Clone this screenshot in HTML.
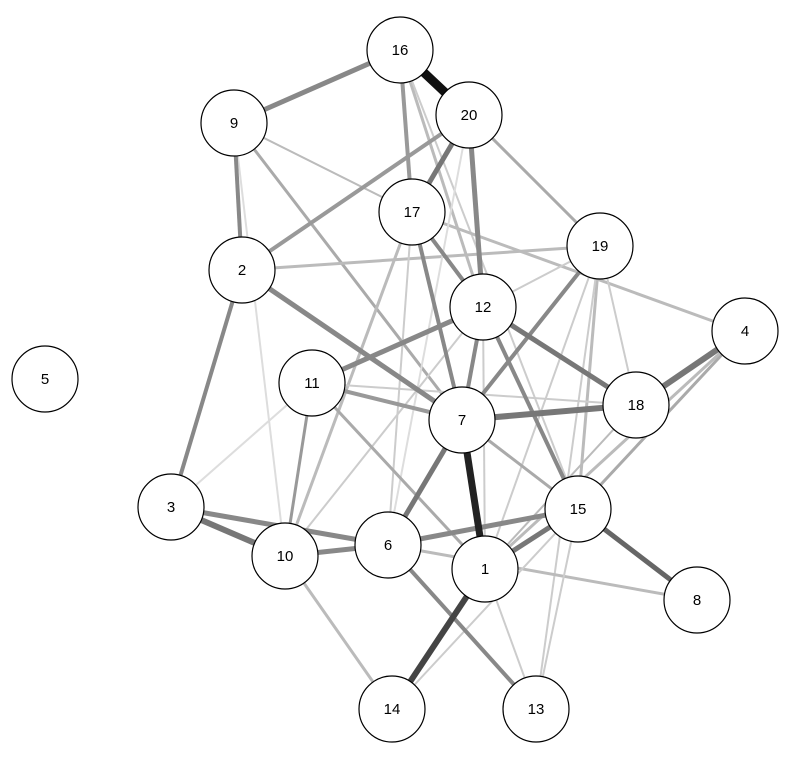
<!DOCTYPE html>
<html><head><meta charset="utf-8"><style>html,body{margin:0;padding:0;background:#fff}</style></head>
<body>
<svg width="800" height="770" xmlns="http://www.w3.org/2000/svg" font-family="Liberation Sans, sans-serif">
<g stroke-linecap="butt">
<line x1="469" y1="115" x2="600" y2="246" stroke="#aaa" stroke-width="3"/>
<line x1="400" y1="50" x2="483" y2="307" stroke="#bbb" stroke-width="3"/>
<line x1="400" y1="50" x2="578" y2="509" stroke="#ccc" stroke-width="2"/>
<line x1="234" y1="123" x2="412" y2="212" stroke="#bbb" stroke-width="2"/>
<line x1="412" y1="212" x2="743" y2="332" stroke="#bbb" stroke-width="3"/>
<line x1="234" y1="123" x2="462" y2="420" stroke="#aaa" stroke-width="3"/>
<line x1="234" y1="123" x2="285" y2="556" stroke="#ddd" stroke-width="2"/>
<line x1="242" y1="270" x2="600" y2="246" stroke="#bbb" stroke-width="3"/>
<line x1="412" y1="212" x2="285" y2="556" stroke="#bbb" stroke-width="3"/>
<line x1="412" y1="212" x2="388" y2="545" stroke="#ccc" stroke-width="2"/>
<line x1="469" y1="115" x2="388" y2="545" stroke="#ddd" stroke-width="2"/>
<line x1="600" y1="246" x2="483" y2="307" stroke="#ccc" stroke-width="2"/>
<line x1="600" y1="246" x2="578" y2="509" stroke="#bbb" stroke-width="3"/>
<line x1="600" y1="246" x2="536" y2="709" stroke="#ccc" stroke-width="2"/>
<line x1="600" y1="246" x2="485" y2="569" stroke="#ccc" stroke-width="2"/>
<line x1="600" y1="246" x2="636" y2="405" stroke="#ccc" stroke-width="2"/>
<line x1="743" y1="332" x2="578" y2="509" stroke="#aaa" stroke-width="3"/>
<line x1="743" y1="332" x2="485" y2="569" stroke="#bbb" stroke-width="3"/>
<line x1="483" y1="307" x2="285" y2="556" stroke="#ccc" stroke-width="2"/>
<line x1="483" y1="307" x2="485" y2="569" stroke="#ccc" stroke-width="2"/>
<line x1="312" y1="383" x2="636" y2="405" stroke="#ccc" stroke-width="2"/>
<line x1="312" y1="383" x2="485" y2="569" stroke="#aaa" stroke-width="3"/>
<line x1="462" y1="420" x2="578" y2="509" stroke="#aaa" stroke-width="3"/>
<line x1="171" y1="507" x2="312" y2="383" stroke="#ddd" stroke-width="2"/>
<line x1="285" y1="556" x2="392" y2="709" stroke="#bbb" stroke-width="3"/>
<line x1="388" y1="545" x2="697" y2="600" stroke="#bbb" stroke-width="3"/>
<line x1="485" y1="569" x2="536" y2="709" stroke="#ccc" stroke-width="2"/>
<line x1="578" y1="509" x2="392" y2="709" stroke="#ccc" stroke-width="2"/>
<line x1="636" y1="405" x2="485" y2="569" stroke="#bbb" stroke-width="2"/>
<line x1="578" y1="509" x2="536" y2="709" stroke="#ccc" stroke-width="2"/>
<line x1="400" y1="50" x2="234" y2="123" stroke="#888" stroke-width="5"/>
<line x1="400" y1="50" x2="412" y2="212" stroke="#999" stroke-width="4"/>
<line x1="469" y1="115" x2="412" y2="212" stroke="#777" stroke-width="5"/>
<line x1="469" y1="115" x2="242" y2="270" stroke="#999" stroke-width="4"/>
<line x1="469" y1="115" x2="483" y2="307" stroke="#888" stroke-width="5"/>
<line x1="234" y1="123" x2="242" y2="270" stroke="#888" stroke-width="4"/>
<line x1="242" y1="270" x2="462" y2="420" stroke="#888" stroke-width="5"/>
<line x1="242" y1="270" x2="171" y2="507" stroke="#888" stroke-width="4"/>
<line x1="412" y1="212" x2="483" y2="307" stroke="#888" stroke-width="4"/>
<line x1="412" y1="212" x2="462" y2="420" stroke="#888" stroke-width="4"/>
<line x1="600" y1="246" x2="462" y2="420" stroke="#888" stroke-width="4"/>
<line x1="743" y1="332" x2="636" y2="405" stroke="#777" stroke-width="6"/>
<line x1="483" y1="307" x2="312" y2="383" stroke="#888" stroke-width="5"/>
<line x1="483" y1="307" x2="462" y2="420" stroke="#888" stroke-width="4"/>
<line x1="483" y1="307" x2="636" y2="405" stroke="#777" stroke-width="5"/>
<line x1="483" y1="307" x2="578" y2="509" stroke="#888" stroke-width="4"/>
<line x1="312" y1="383" x2="462" y2="420" stroke="#999" stroke-width="4"/>
<line x1="312" y1="383" x2="285" y2="556" stroke="#999" stroke-width="3"/>
<line x1="462" y1="420" x2="636" y2="405" stroke="#777" stroke-width="6"/>
<line x1="462" y1="420" x2="388" y2="545" stroke="#777" stroke-width="5"/>
<line x1="171" y1="507" x2="388" y2="545" stroke="#888" stroke-width="5"/>
<line x1="171" y1="507" x2="285" y2="556" stroke="#777" stroke-width="6"/>
<line x1="285" y1="556" x2="388" y2="545" stroke="#888" stroke-width="5"/>
<line x1="388" y1="545" x2="578" y2="509" stroke="#888" stroke-width="5"/>
<line x1="388" y1="545" x2="536" y2="709" stroke="#888" stroke-width="4"/>
<line x1="485" y1="569" x2="578" y2="509" stroke="#777" stroke-width="5"/>
<line x1="485" y1="569" x2="392" y2="709" stroke="#444" stroke-width="6"/>
<line x1="578" y1="509" x2="697" y2="600" stroke="#666" stroke-width="5"/>
<line x1="462" y1="420" x2="485" y2="569" stroke="#222" stroke-width="7"/>
<line x1="400" y1="50" x2="469" y2="115" stroke="#111" stroke-width="9"/>
</g>
<g fill="#fff" stroke="#000" stroke-width="1.2">
<circle cx="400" cy="50" r="33"/><circle cx="469" cy="115" r="33"/><circle cx="234" cy="123" r="33"/>
<circle cx="412" cy="212" r="33"/><circle cx="600" cy="246" r="33"/><circle cx="242" cy="270" r="33"/>
<circle cx="483" cy="307" r="33"/><circle cx="745" cy="331" r="33"/><circle cx="45" cy="379" r="33"/>
<circle cx="312" cy="383" r="33"/><circle cx="462" cy="420" r="33"/><circle cx="636" cy="405" r="33"/>
<circle cx="171" cy="507" r="33"/><circle cx="578" cy="509" r="33"/><circle cx="388" cy="545" r="33"/>
<circle cx="285" cy="556" r="33"/><circle cx="485" cy="569" r="33"/><circle cx="697" cy="600" r="33"/>
<circle cx="392" cy="709" r="33"/><circle cx="536" cy="709" r="33"/>
</g>
<g font-size="15" text-anchor="middle" fill="#000">
<text x="400" y="55">16</text><text x="469" y="120">20</text><text x="234" y="128">9</text>
<text x="412" y="217">17</text><text x="600" y="251">19</text><text x="242" y="275">2</text>
<text x="483" y="312">12</text><text x="745" y="336">4</text><text x="45" y="384">5</text>
<text x="312" y="388">11</text><text x="462" y="425">7</text><text x="636" y="410">18</text>
<text x="171" y="512">3</text><text x="578" y="514">15</text><text x="388" y="550">6</text>
<text x="285" y="561">10</text><text x="485" y="574">1</text><text x="697" y="605">8</text>
<text x="392" y="714">14</text><text x="536" y="714">13</text>
</g>
</svg>
</body></html>
